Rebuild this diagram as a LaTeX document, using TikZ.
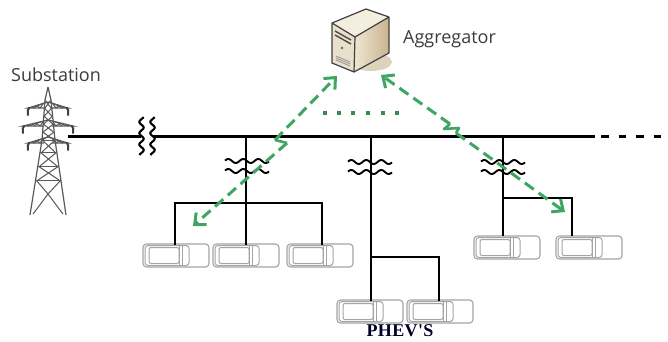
\documentclass[tikz,border=0pt]{standalone}
\usepackage{fontspec}
\setmainfont{Liberation Serif}
\newfontfamily\labelfont{Open Sans}
\newfontfamily\phevfont[LetterSpace=2]{Liberation Serif}
\usetikzlibrary{arrows.meta}
\definecolor{linkgreen}{HTML}{3FA562}
\definecolor{cargrey}{HTML}{A4A4A4}
\definecolor{labelgrey}{HTML}{3C3C3C}
\definecolor{srvfront}{HTML}{E9E0CB}
\definecolor{srvtop}{HTML}{F4EEDF}
\definecolor{srvlight}{HTML}{EFE6D2}
\definecolor{srvtan}{HTML}{C9B48F}
\definecolor{srvshadow}{HTML}{DDD3BC}
\tikzset{
  bus/.style={line width=3pt,black},
  busthin/.style={line width=2.9pt,black},
  coilline/.style={line width=1.9pt,black},
  greenlink/.style={line width=3pt,linkgreen,dash pattern=on 11pt off 6pt},
  greenjog/.style={line width=2.6pt,linkgreen},
  greenhead/.style={-{Straight Barb[length=9pt,width=16pt,line width=3pt]}},
  lbl/.style={font=\labelfont\fontsize{18}{21}\selectfont,text=labelgrey,inner sep=0pt},
  tw/.style={line width=1pt,black!65},
  twheavy/.style={line width=2pt,black!75,line cap=round},
  carpic/.pic={
    \draw[cargrey,line width=1.1pt,rounded corners=3.5pt] (0,0) rectangle (66,23);
    \draw[cargrey,line width=1pt,rounded corners=3pt] (2,1.5) rectangle (46,21.5);
    \draw[cargrey,line width=1pt,rounded corners=2pt] (6,3.5) rectangle (36,19.5);
    \draw[cargrey,line width=1pt] (36,1.5)--(36,21.5) (39,1.5)--(39,21.5);
  },
  hcoil/.pic={
    \draw[coilline,domain=-22:22,samples=45,smooth] plot (\x,{-5+2*sin(\x*24)});
    \draw[coilline,domain=-22:22,samples=45,smooth] plot (\x,{5+2*sin(\x*24)});
  },
  vcoil/.pic={
    \draw[coilline,line width=2.1pt,domain=-19:19,samples=45,smooth] plot ({-5.5+2.2*sin(\x*32)},\x);
    \draw[coilline,line width=2.1pt,domain=-19:19,samples=45,smooth] plot ({5.5+2.2*sin(\x*32)},\x);
  }
}
\begin{document}
\begin{tikzpicture}[x=1pt,y=-1pt]
\useasboundingbox (0,0) rectangle (668,341);
\fill[white] (0,0) rectangle (668,341);

% tower
\coordinate (tower) at (68,136);
\draw[tw,line width=1.2pt] (48,87)--(45,100)--(42,140)--(30,215) (48,87)--(51,100)--(55,140)--(66,215);
\foreach \a/\b/\l/\r in {100/108/45/51,108/116/44.4/51.8,116/124/43.8/52.6,124/132/43.2/53.4,132/140/42.6/54.2,140/152/42/55,152/166/40/57,166/180/38/59}{
  \draw[tw] (\l,\a)--(\r,\b);
  \draw[tw] (\r,\a)--(\l,\b);
}
\draw[tw] (42,140)--(55,140) (40,152)--(57,152) (38,166)--(59,166) (36,180)--(61,180);
\draw[tw] (36,180)--(48,194)--(61,180) (48,194)--(33,214) (48,194)--(63,214);
\foreach \yy/\w in {102/20,120/25,137/20}{
  \draw[tw,line width=1.2pt] (48,\yy)--(48-\w,\yy+6)--(44,\yy+6) (48,\yy)--(48+\w,\yy+6)--(52,\yy+6);
  \draw[tw] (44,\yy+1)--(48-\w+5,\yy+6) (52,\yy+1)--(48+\w-5,\yy+6);
  \draw[tw] (43,\yy+2)--(40,\yy+6)--(37,\yy+3.5)--(34,\yy+6) (53,\yy+2)--(56,\yy+6)--(59,\yy+3.5)--(62,\yy+6);
  \draw[twheavy] (48-\w+1,\yy+6) .. controls (48-\w-1,\yy+7) and (48-\w,\yy+10) .. (48-\w,\yy+13);
  \draw[twheavy] (48+\w-1,\yy+6) .. controls (48+\w+1,\yy+7) and (48+\w,\yy+10) .. (48+\w,\yy+13);
}
\node[lbl,anchor=base] (substation) at (56,81) {Substation};

% server
\fill[srvshadow] (371,62) ellipse (21pt and 9pt);
\fill[srvtop] (332,23)--(366,9)--(389,17)--(355,37)--cycle;
\fill[srvfront] (332,23)--(355,37)--(354,72)--(332,63)--cycle;
\shade[left color=srvlight,right color=srvtan] (355,37)--(389,17)--(389,53)--(354,72)--cycle;
\draw[line width=1.2pt,black!75,line join=round] (332,23)--(366,9)--(389,17)--(389,53)--(354,72)--(332,63)--cycle (332,23)--(355,37)--(389,17) (355,37)--(354,72);
\draw[line width=1.4pt,black!70] (335,31)--(351,40) (335,35)--(351,44);
\fill[black!60] (342,48) circle (1.4pt);
\draw[line width=0.7pt,black!45] (336,56)--(350,62) (336,58)--(350,64) (336,60)--(350,66);
\coordinate (server l) at (337,76);
\coordinate (server r) at (381,75);
\node[lbl,anchor=base west] (aggregator) at (403,43) {Aggregator};

% main bus
\coordinate (trmain) at (147,136);
\coordinate (f1) at (246,136);
\coordinate (f2) at (371,136);
\coordinate (f3) at (503,136);
\coordinate (busend) at (595,136);
\coordinate (dashstart) at (601,136);
\coordinate (dashend) at (668,136);
\draw[bus] (tower)--(141,136);
\draw[bus] (153,136)--(f1)--(f2)--(f3)--(busend);
\draw[line width=3pt,dash pattern=on 7.5pt off 10pt] (dashstart)--(dashend);
\pic at (trmain) {vcoil};

% feeder 1
\coordinate (b1) at (246,203);
\coordinate (b1l) at (175,203);
\coordinate (b1r) at (322,203);
\coordinate (c1) at (175,245);
\coordinate (c2) at (246,245);
\coordinate (c3) at (322,245);
\pic at (143,244) {carpic};
\pic at (213,244) {carpic};
\pic at (287,244) {carpic};
\draw[busthin] (f1)--(b1)--(c2);
\draw[busthin,line join=miter] (c1)--(b1l)--(b1r)--(c3);
\pic at (247,166) {hcoil};

% feeder 2
\coordinate (b2) at (371,257);
\coordinate (b2r) at (439,257);
\coordinate (c4) at (371,301);
\coordinate (c5) at (439,301);
\pic at (337,300) {carpic};
\pic at (407,300) {carpic};
\draw[busthin] (f2)--(b2)--(c4);
\draw[busthin] (b2)--(b2r)--(c5);
\pic at (370,167) {hcoil};
\node[font=\phevfont\bfseries\fontsize{18}{20}\selectfont,text=black!85!blue,inner sep=0pt] (phev) at (400,331) {PHEV'S};

% feeder 3
\coordinate (b3) at (503,198);
\coordinate (b3r) at (572,198);
\coordinate (c6) at (503,236);
\coordinate (c7) at (572,236);
\pic at (474,236) {carpic};
\pic at (556,236) {carpic};
\draw[busthin] (f3)--(b3)--(c6);
\draw[busthin] (b3)--(b3r)--(c7);
\pic at (503,167) {hcoil};

% wireless links
\coordinate (car l) at (193,226);
\coordinate (car r) at (565,212);
\coordinate (j1) at (287,143);
\coordinate (j2) at (275,140);
\coordinate (j3) at (450,124);
\coordinate (j4) at (444,129);
\coordinate (j5) at (459,128);
\coordinate (j6) at (456,133);
\draw[greenjog,line join=round] (j1)--(j2);
\draw[greenjog,line join=round] (j3)--(j4)--(j5)--(j6);
\draw[greenlink,greenhead] (j1)--(car l);
\draw[greenlink,greenhead] (j2)--(server l);
\draw[greenlink,greenhead] (j3)--(server r);
\draw[greenlink,greenhead] (j6)--(car r);

% dots
\foreach \x in {325,339,353,368,383,397}{
  \fill[linkgreen!85!black] (\x-2.2,111.3) rectangle (\x+2.2,114.7);
}
\end{tikzpicture}
\end{document}
